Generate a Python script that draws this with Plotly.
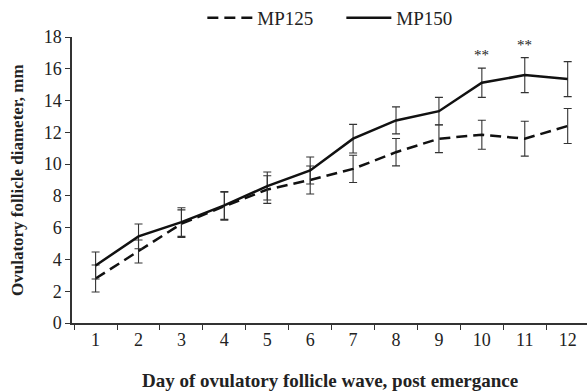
import plotly.graph_objects as go

days = [str(d) for d in range(1, 13)]
mp125 = [2.8, 4.5, 6.25, 7.35, 8.4, 9.0, 9.7, 10.75, 11.6, 11.85, 11.6, 12.4]
mp125_err = [0.85, 0.72, 0.87, 0.88, 0.87, 0.88, 0.86, 0.86, 0.88, 0.91, 1.1, 1.1]
mp150 = [3.62, 5.45, 6.35, 7.4, 8.62, 9.6, 11.6, 12.75, 13.33, 15.12, 15.6, 15.35]
mp150_err = [0.85, 0.78, 0.9, 0.88, 0.88, 0.85, 0.9, 0.85, 0.87, 0.92, 1.1, 1.1]
sig_days = ["10", "11"]
sig_text = "**"
x_title = "<b>Day of ovulatory follicle wave, post emergance</b>"
y_title = "<b>Ovulatory follicle diameter, mm</b>"

font_family = "Liberation Serif, Times New Roman, serif"

fig = go.Figure()
fig.add_trace(go.Scatter(
    x=days, y=mp125, name="MP125", mode="lines",
    line=dict(color="#111111", width=2.5, dash="11px,6px"),
    error_y=dict(type="data", array=mp125_err, visible=True,
                 color="#333333", thickness=1.1, width=4),
))
fig.add_trace(go.Scatter(
    x=days, y=mp150, name="MP150", mode="lines",
    line=dict(color="#111111", width=2.5),
    error_y=dict(type="data", array=mp150_err, visible=True,
                 color="#333333", thickness=1.1, width=4),
))

for d in sig_days:
    i = days.index(d)
    fig.add_annotation(x=i, y=mp150[i] + mp150_err[i], text=sig_text,
                       showarrow=False, yanchor="bottom", yshift=3,
                       font=dict(size=15, family=font_family, color="#222"))

fig.add_annotation(text=x_title, xref="paper", yref="paper", x=0.5, y=0,
                   xanchor="center", yanchor="middle", yshift=-57,
                   showarrow=False, font=dict(size=19, family=font_family, color="#222"))
fig.add_annotation(text=y_title, xref="paper", yref="paper", x=0, y=0.5,
                   xanchor="center", yanchor="middle", xshift=-55, textangle=-90,
                   showarrow=False, font=dict(size=17, family=font_family, color="#222"))

fig.update_layout(
    width=587, height=391,
    margin=dict(l=72, r=0, t=37, b=68, autoexpand=False),
    paper_bgcolor="white", plot_bgcolor="white",
    font=dict(family=font_family, size=18, color="#222"),
    showlegend=True,
    legend=dict(orientation="h", x=0.523, xanchor="center", y=1.0,
                yanchor="bottom", font=dict(size=19, family=font_family),
                bgcolor="rgba(0,0,0,0)", itemwidth=45,
                entrywidth=79, entrywidthmode="pixels"),
    xaxis=dict(
        type="category", range=[-0.55, 11.45], automargin=False,
        showline=True, linecolor="#333", linewidth=1.5,
        ticks="outside", tickson="boundaries", ticklen=5, tickcolor="#333",
        tickwidth=1.2, showgrid=False, zeroline=False,
        tickfont=dict(size=18),
    ),
    yaxis=dict(
        range=[0, 18], dtick=2, tick0=0, automargin=False,
        showline=True, linecolor="#333", linewidth=1.5,
        ticks="outside", ticklen=5, tickcolor="#333", tickwidth=1.2,
        showgrid=False, zeroline=False,
        tickfont=dict(size=18),
    ),
)

fig.write_html("out.html", config={"displayModeBar": False},
               post_script="document.body.style.margin='0';document.body.style.overflow='hidden';")
